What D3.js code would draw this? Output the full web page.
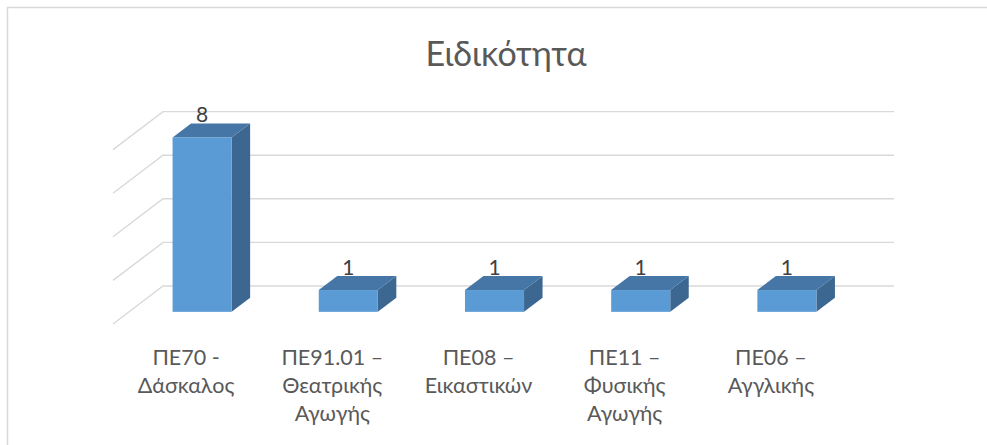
<!DOCTYPE html>
<html>
<head>
<meta charset="utf-8">
<script src="https://cdn.jsdelivr.net/npm/d3@7"></script>
<style>
  html, body { margin: 0; padding: 0; background: #ffffff; overflow: hidden; }
  svg { display: block; }
  text { font-family: Lato, "Open Sans", "Noto Sans", sans-serif; }
</style>
</head>
<body>
<svg id="chart" width="987" height="445"></svg>
<script>
// Chart data
const title = "Ειδικότητα";
const categories = [
  "ΠΕ70 -\nΔάσκαλος",
  "ΠΕ91.01 –\nΘεατρικής\nΑγωγής",
  "ΠΕ08 –\nΕικαστικών",
  "ΠΕ11 –\nΦυσικής\nΑγωγής",
  "ΠΕ06 –\nΑγγλικής"
];
const values = [8, 1, 1, 1, 1];
const gridValues = [0, 2, 4, 6, 8];

const svg = d3.select("#chart");

// Chart area frame (runs past the right and bottom edges)
svg.append("rect")
  .attr("x", 7.5).attr("y", 7.5)
  .attr("width", 1100).attr("height", 600)
  .attr("fill", "#ffffff")
  .attr("stroke", "#d9d9d9")
  .attr("stroke-width", 1.5);

// Title
svg.append("text")
  .attr("x", 506).attr("y", 66)
  .attr("text-anchor", "middle")
  .attr("font-size", 34)
  .attr("fill", "#595959")
  .text(title);

// Oblique 3D projection: front plane x/value, plus a depth vector
const floorFrontY = 324;
const depthVec = { dx: 50, dy: -38 };
const x = d3.scaleBand()
  .domain(d3.range(categories.length))
  .range([113, 844])
  .paddingInner(0.596)
  .paddingOuter(0.298);
const y = d3.scaleLinear().domain([0, 8]).range([floorFrontY, floorFrontY - 174.4]);

function proj(px, v, d) {
  return [px + depthVec.dx * d, y(v) + depthVec.dy * d];
}

// Walls' gridlines: side wall diagonal + back wall horizontal
const grid = svg.append("g").attr("stroke", "#d9d9d9").attr("stroke-width", 1.4).attr("fill", "none");
gridValues.forEach(v => {
  const a = proj(x.range()[0], v, 0);
  const b = proj(x.range()[0], v, 1);
  const c = proj(x.range()[1], v, 1);
  grid.append("path").attr("d", d3.line()([a, b, c]));
});

// Bars as 3D boxes
const dFront = 0.32, dBack = 0.69;
const bars = svg.append("g");
values.forEach((v, i) => {
  const x0 = x(i), x1 = x(i) + x.bandwidth();
  const g = bars.append("g");
  // right side face
  g.append("path")
    .attr("d", d3.line()([proj(x1, 0, dFront), proj(x1, 0, dBack), proj(x1, v, dBack), proj(x1, v, dFront)]) + "Z")
    .attr("fill", "#3b6791");
  // top face
  g.append("path")
    .attr("d", d3.line()([proj(x0, v, dFront), proj(x0, v, dBack), proj(x1, v, dBack), proj(x1, v, dFront)]) + "Z")
    .attr("fill", "#4576a6");
  // front face
  const f0 = proj(x0, v, dFront), f1 = proj(x1, 0, dFront);
  g.append("rect")
    .attr("x", f0[0]).attr("y", f0[1])
    .attr("width", f1[0] - f0[0]).attr("height", f1[1] - f0[1])
    .attr("fill", "#5b9bd5");
  // value label
  const top = proj(x0 + x.bandwidth() / 2, v, dBack);
  g.append("text")
    .attr("x", (f0[0] + f1[0]) / 2)
    .attr("y", top[1] - 1)
    .attr("text-anchor", "middle")
    .attr("font-size", 21)
    .attr("fill", "#404040")
    .text(v);
});

// Category labels at the front edge
const labels = svg.append("g")
  .attr("fill", "#595959")
  .attr("font-size", 21.5)
  .attr("text-anchor", "middle");
categories.forEach((c, i) => {
  const t = labels.append("text")
    .attr("x", x(i) + x.bandwidth() / 2)
    .attr("y", 365);
  c.split("\n").forEach((line, j) => {
    t.append("tspan")
      .attr("x", x(i) + x.bandwidth() / 2)
      .attr("dy", j === 0 ? 0 : 28)
      .text(line);
  });
});
</script>
</body>
</html>
